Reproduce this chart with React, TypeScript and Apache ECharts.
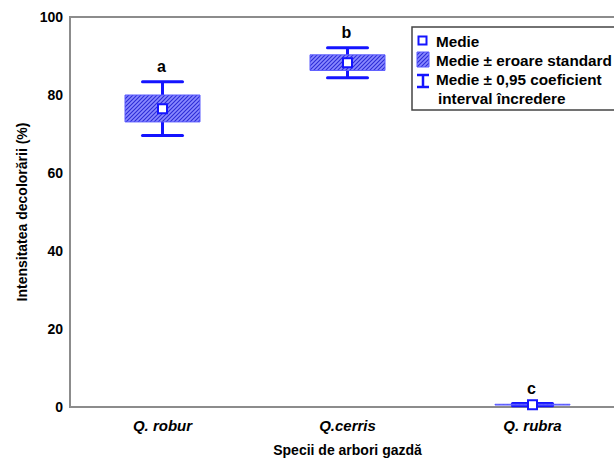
import React, { useEffect, useRef } from "react";
import * as echarts from "echarts";

const categories = ["Q. robur", "Q.cerris", "Q. rubra"];
const means = [76.5, 88.3, 0.6];
const seLow = [73.1, 86.3, 0.5];
const seHigh = [80.0, 90.3, 0.7];
const ciLow = [69.6, 84.4, 0.3];
const ciHigh = [83.4, 92.1, 0.9];
const letters = ["a", "b", "c"];
const yTicks = [0, 20, 40, 60, 80, 100];

const hatchSvg =
  "<svg xmlns='http://www.w3.org/2000/svg' width='4' height='4'>" +
  "<rect width='4' height='4' fill='#8a8aff'/>" +
  "<path d='M-1,1 L1,-1 M0,4 L4,0 M3,5 L5,3' stroke='#2b2bd6' stroke-width='1.1'/></svg>";
const hatchUrl = "data:image/svg+xml;charset=utf-8," + encodeURIComponent(hatchSvg);
const hatch: any = { image: hatchUrl, repeat: "repeat", imageWidth: 4, imageHeight: 4 };

const BLUE = "#1414ff";
const FONT = "Liberation Sans, Arial, sans-serif";

export default function App() {
  const ref = useRef<HTMLDivElement>(null);
  useEffect(() => {
    if (!ref.current) return;
    const chart = echarts.init(ref.current, null, { renderer: "svg" });
    const data = categories.map((c, i) => [i, means[i], seLow[i], seHigh[i], ciLow[i], ciHigh[i]]);
    const option: any = {
      animation: false,
      textStyle: { fontFamily: FONT },
      grid: {
        left: 70,
        top: 17,
        width: 555,
        height: 390,
        show: true,
        borderColor: "#8c8c8c",
        borderWidth: 2,
        containLabel: false,
        outerBoundsMode: "none",
      },
      xAxis: {
        type: "category",
        data: categories,
        boundaryGap: true,
        axisLine: { lineStyle: { color: "#8c8c8c", width: 2 } },
        axisTick: { show: false },
        axisLabel: {
          color: "#000",
          fontWeight: "bold",
          fontStyle: "italic",
          fontSize: 15,
          margin: 11,
        },
        name: "Specii de arbori gazdă",
        nameLocation: "middle",
        nameGap: 36,
        nameTextStyle: { color: "#000", fontSize: 14, fontWeight: "bold" },
      },
      yAxis: {
        type: "value",
        min: 0,
        max: 100,
        interval: 20,
        splitLine: { show: false },
        axisLine: { show: true, lineStyle: { color: "#8c8c8c", width: 2 } },
        axisTick: { show: false },
        axisLabel: {
          color: "#000",
          fontWeight: "bold",
          fontSize: 14,
          margin: 7,
          formatter: (v: number) => (yTicks.includes(v) ? String(v) : ""),
        },
        name: "Intensitatea decolorării (%)",
        nameLocation: "middle",
        nameGap: 41,
        nameTextStyle: { color: "#000", fontSize: 14, fontWeight: "bold" },
      },
      series: [
        {
          type: "custom",
          data,
          clip: false,
          renderItem: (params: any, api: any) => {
            const i = api.value(0);
            const m = api.coord([i, api.value(1)]);
            const sl = api.coord([i, api.value(2)]);
            const sh = api.coord([i, api.value(3)]);
            const cl = api.coord([i, api.value(4)]);
            const ch = api.coord([i, api.value(5)]);
            const x = m[0];
            const bw = 75;
            const cw = 40;
            return {
              type: "group",
              children: [
                { type: "line", shape: { x1: x, y1: ch[1], x2: x, y2: cl[1] }, style: { stroke: BLUE, lineWidth: 3 } },
                { type: "line", shape: { x1: x - cw / 2, y1: ch[1], x2: x + cw / 2, y2: ch[1] }, style: { stroke: BLUE, lineWidth: 3, lineCap: "round" } },
                { type: "line", shape: { x1: x - cw / 2, y1: cl[1], x2: x + cw / 2, y2: cl[1] }, style: { stroke: BLUE, lineWidth: 3, lineCap: "round" } },
                {
                  type: "rect",
                  shape: { x: x - bw / 2, y: sh[1], width: bw, height: sl[1] - sh[1] },
                  style: { fill: hatch, stroke: "#5b5bff", lineWidth: 1 },
                },
                {
                  type: "rect",
                  shape: { x: x - 4.5, y: m[1] - 4.5, width: 9, height: 9 },
                  style: { fill: "#fff", stroke: BLUE, lineWidth: 2 },
                },
                {
                  type: "text",
                  style: {
                    text: letters[i],
                    x: x - 1,
                    y: ch[1] - 15,
                    align: "center",
                    verticalAlign: "middle",
                    fontSize: 16,
                    fontWeight: "bold",
                    fontFamily: FONT,
                    fill: "#000",
                  },
                },
              ],
            };
          },
        },
      ],
      graphic: [
        {
          type: "rect",
          shape: { x: 412, y: 27, width: 220, height: 83 },
          style: { fill: "#fff", stroke: "#444", lineWidth: 1.5 },
        },
        { type: "rect", shape: { x: 418.5, y: 36.5, width: 8, height: 8 }, style: { fill: "#fff", stroke: BLUE, lineWidth: 2 } },
        { type: "rect", shape: { x: 417, y: 52, width: 12, height: 15 }, style: { fill: hatch, stroke: "#5b5bff", lineWidth: 1 } },
        { type: "line", shape: { x1: 423, y1: 75, x2: 423, y2: 87 }, style: { stroke: BLUE, lineWidth: 2.5 } },
        { type: "line", shape: { x1: 417, y1: 75, x2: 429, y2: 75 }, style: { stroke: BLUE, lineWidth: 2.5 } },
        { type: "line", shape: { x1: 417, y1: 87, x2: 429, y2: 87 }, style: { stroke: BLUE, lineWidth: 2.5 } },
        ...[
          ["Medie", 436, 41],
          ["Medie ± eroare standard", 436, 60],
          ["Medie ± 0,95 coeficient", 436, 79],
          ["interval încredere", 438, 98],
        ].map(([t, x, y]) => ({
          type: "text",
          x,
          y,
          style: {
            text: t,
            fontSize: 15.3,
            fontWeight: "bold",
            fontFamily: FONT,
            fill: "#000",
            verticalAlign: "middle",
          },
        })),
      ],
    };
    chart.setOption(option);
    return () => chart.dispose();
  }, []);
  return <div ref={ref} style={{ width: 614, height: 461, position: "absolute", left: 0, top: 0 }} />;
}
